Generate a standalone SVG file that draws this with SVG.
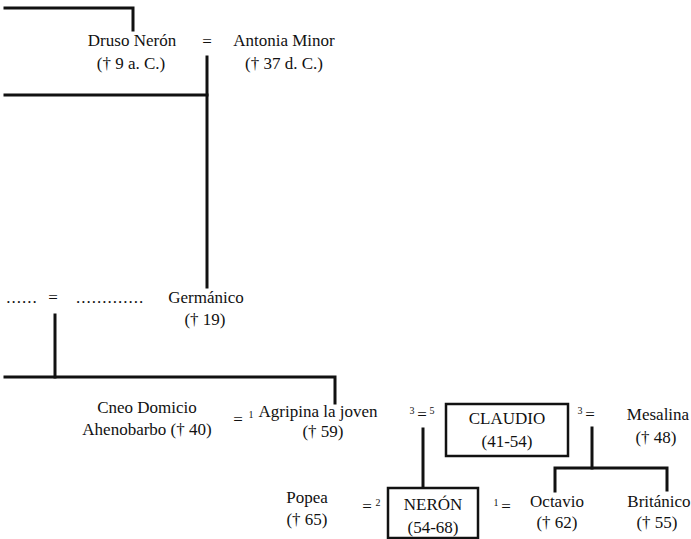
<svg xmlns="http://www.w3.org/2000/svg" width="691" height="539" viewBox="0 0 691 539">
<style>
text{font-family:'Liberation Serif','DejaVu Serif','Times New Roman',serif;font-size:17px;fill:#111;text-anchor:middle}
text.sup{font-size:10px}
text.dots{letter-spacing:1px}
.ln{stroke:#111;stroke-width:3;fill:none;stroke-linecap:square}
.box{stroke:#111;stroke-width:2.5;fill:#fff}
</style>
<rect width="691" height="539" fill="#fff"/>
<g id="connectors">
<path class="ln" d="M5 8H133V30"/>
<path class="ln" d="M5 95H207"/>
<path class="ln" d="M207 57V287"/>
<path class="ln" d="M55 315V377"/>
<path class="ln" d="M5 377H335V403"/>
<path class="ln" d="M423 429V488"/>
<path class="ln" d="M592 428V468"/>
<path class="ln" d="M555 491V468H667V490"/>
</g>
<g id="druso"><text x="132" y="46">Druso Nerón</text><text x="131" y="69">(† 9 a. C.)</text></g>
<g id="m1"><text x="207" y="47">=</text></g>
<g id="antonia"><text x="284" y="46">Antonia Minor</text><text x="284" y="69">(† 37 d. C.)</text></g>
<g id="padres"><text class="dots" x="22" y="303">......</text><text x="53" y="303">=</text><text class="dots" x="110" y="303">.............</text></g>
<g id="germanico"><text x="206" y="303">Germánico</text><text x="205" y="325">(† 19)</text></g>
<g id="cneo"><text x="147" y="413">Cneo Domicio</text><text x="147" y="435">Ahenobarbo († 40)</text></g>
<g id="m2"><text x="238" y="425">=</text><text class="sup" x="251" y="418">1</text></g>
<g id="agripina"><text x="318" y="417">Agripina la joven</text><text x="323" y="437">(† 59)</text></g>
<g id="m3"><text class="sup" x="412" y="414">3</text><text x="422" y="420">=</text><text class="sup" x="432" y="414">5</text></g>
<g id="claudio"><rect class="box" x="446" y="404" width="122" height="52"/><text x="507" y="424">CLAUDIO</text><text x="507" y="447">(41-54)</text></g>
<g id="m4"><text class="sup" x="580" y="414">3</text><text x="590" y="420">=</text></g>
<g id="mesalina"><text x="658" y="420">Mesalina</text><text x="656" y="443">(† 48)</text></g>
<g id="popea"><text x="307" y="503">Popea</text><text x="307" y="525">(† 65)</text></g>
<g id="m5"><text x="367" y="512">=</text><text class="sup" x="378" y="506">2</text></g>
<g id="neron"><rect class="box" x="388" y="488" width="90" height="50"/><text x="433" y="510">NERÓN</text><text x="433" y="533">(54-68)</text></g>
<g id="m6"><text class="sup" x="496" y="506">1</text><text x="506" y="512">=</text></g>
<g id="octavio"><text x="557" y="507">Octavio</text><text x="557" y="528">(† 62)</text></g>
<g id="britanico"><text x="659" y="507">Británico</text><text x="657" y="528">(† 55)</text></g>
</svg>
